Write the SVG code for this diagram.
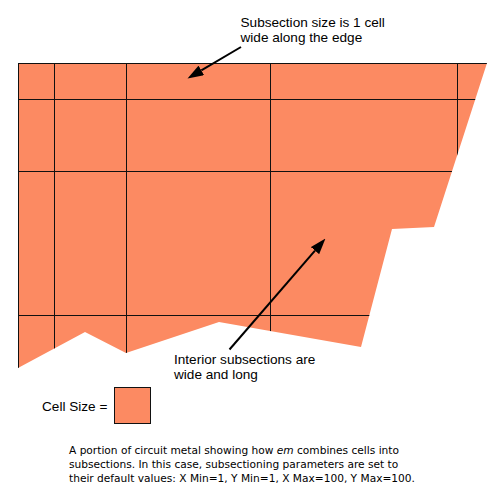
<svg xmlns="http://www.w3.org/2000/svg" width="492" height="504" viewBox="0 0 492 504">
<style>
.metal{fill:#fc8a62;}
.grid line{stroke:#111;stroke-width:1;}
.lbl{font-family:'Liberation Sans',Arial,sans-serif;font-size:13.6px;fill:#000;}
.cap{font-family:'DejaVu Sans','Liberation Sans',sans-serif;font-size:10.62px;fill:#000;}
.arrow{stroke:#000;stroke-width:2;fill:none;marker-end:url(#ah);}
</style>
<defs>
<clipPath id="clipMetal"><polygon points="18,63 487,63 434,227 392,229 361,347 219,322 126,353 85,332 18,368"/></clipPath>
<marker id="ah" viewBox="0 0 16 11" refX="0" refY="5.5" markerWidth="16" markerHeight="11" markerUnits="userSpaceOnUse" orient="auto"><path d="M0,0 L16,5.5 L0,11 z" fill="#000"/></marker>
</defs>
<g id="metal">
<polygon class="metal" points="18,63 487,63 434,227 392,229 361,347 219,322 126,353 85,332 18,368"/>
<g class="grid" clip-path="url(#clipMetal)">
<line x1="18.5" y1="60" x2="18.5" y2="400"/>
<line x1="54.5" y1="60" x2="54.5" y2="400"/>
<line x1="126.5" y1="60" x2="126.5" y2="400"/>
<line x1="270.5" y1="60" x2="270.5" y2="400"/>
<line x1="457.5" y1="60" x2="457.5" y2="400"/>
<line x1="10" y1="63.5" x2="492" y2="63.5"/>
<line x1="10" y1="99.5" x2="492" y2="99.5"/>
<line x1="10" y1="171.5" x2="492" y2="171.5"/>
<line x1="10" y1="315.5" x2="492" y2="315.5"/>
</g>
</g>
<g id="connectors">
<line class="arrow" x1="241" y1="47" x2="201.3" y2="70.4"/>
<line class="arrow" x1="229.5" y1="349.5" x2="315" y2="250.6"/>
</g>
<g id="label-edge">
<text class="lbl" x="240.5" y="26.7">Subsection size is 1 cell</text>
<text class="lbl" x="240.5" y="41.7">wide along the edge</text>
</g>
<g id="label-interior">
<text class="lbl" x="174" y="363.5">Interior subsections are</text>
<text class="lbl" x="174" y="379">wide and long</text>
</g>
<g id="cell-size">
<text class="lbl" x="42" y="410.5">Cell Size =</text>
<rect class="metal" x="114.5" y="387.5" width="36" height="36" stroke="#111" stroke-width="1"/>
</g>
<g id="caption">
<text class="cap" x="69" y="454.3">A portion of circuit metal showing how <tspan font-style="italic">em</tspan> combines cells into</text>
<text class="cap" x="69" y="468">subsections. In this case, subsectioning parameters are set to</text>
<text class="cap" x="69" y="481.7">their default values: X Min=1, Y Min=1, X Max=100, Y Max=100.</text>
</g>
</svg>
